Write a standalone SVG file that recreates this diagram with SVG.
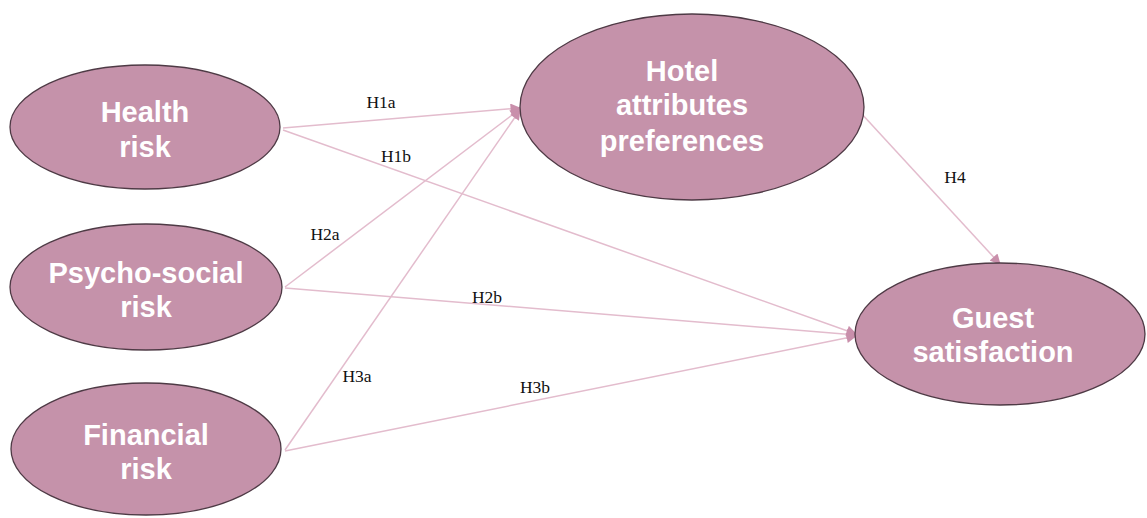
<svg xmlns="http://www.w3.org/2000/svg" width="1147" height="518" viewBox="0 0 1147 518">
<style>
.node{fill:#c592aa;stroke:#4e3a45;stroke-width:1.3}
.nt{font-family:"Liberation Sans",Arial,sans-serif;font-weight:bold;font-size:29px;fill:#ffffff;text-anchor:middle}
.edge{stroke:#e3bccd;stroke-width:1.5;fill:none;marker-end:url(#ah)}
.el{font-family:"Liberation Serif","Times New Roman",serif;font-size:17.5px;fill:#111;text-anchor:middle}
</style>
<defs>
<marker id="ah" viewBox="0 0 10 10" refX="9" refY="5" markerWidth="8" markerHeight="7" orient="auto" markerUnits="strokeWidth">
<path d="M0,0 L10,5 L0,10 z" fill="#c98fab"/>
</marker>
</defs>
<rect width="1147" height="518" fill="#ffffff"/>
<g id="connectors">
<line class="edge" x1="283" y1="128" x2="520" y2="108"/>
<line class="edge" x1="283" y1="130" x2="856" y2="334"/>
<line class="edge" x1="285" y1="287" x2="520" y2="109"/>
<line class="edge" x1="285" y1="288" x2="856" y2="335"/>
<line class="edge" x1="285" y1="450" x2="520" y2="110"/>
<line class="edge" x1="285" y1="451" x2="856" y2="336"/>
<line class="edge" x1="860" y1="112" x2="1000" y2="264"/>
<text class="el" x="381" y="108">H1a</text>
<text class="el" x="396" y="162">H1b</text>
<text class="el" x="325" y="240">H2a</text>
<text class="el" x="487" y="303">H2b</text>
<text class="el" x="357" y="382">H3a</text>
<text class="el" x="535" y="393">H3b</text>
<text class="el" x="955" y="183">H4</text>
</g>
<g id="health">
<ellipse class="node" cx="145" cy="127" rx="135" ry="62"/>
<text class="nt" x="145" y="122">Health</text>
<text class="nt" x="145" y="157">risk</text>
</g>
<g id="psycho">
<ellipse class="node" cx="146" cy="287" rx="136" ry="63"/>
<text class="nt" x="146" y="283">Psycho-social</text>
<text class="nt" x="146" y="317">risk</text>
</g>
<g id="financial">
<ellipse class="node" cx="146" cy="449" rx="135" ry="66"/>
<text class="nt" x="146" y="445">Financial</text>
<text class="nt" x="146" y="479">risk</text>
</g>
<g id="hotel">
<ellipse class="node" cx="692" cy="107" rx="172" ry="93"/>
<text class="nt" x="682" y="81">Hotel</text>
<text class="nt" x="682" y="115">attributes</text>
<text class="nt" x="682" y="151">preferences</text>
</g>
<g id="guest">
<ellipse class="node" cx="1000" cy="334" rx="145" ry="71"/>
<text class="nt" x="993" y="328">Guest</text>
<text class="nt" x="993" y="362">satisfaction</text>
</g>
</svg>
